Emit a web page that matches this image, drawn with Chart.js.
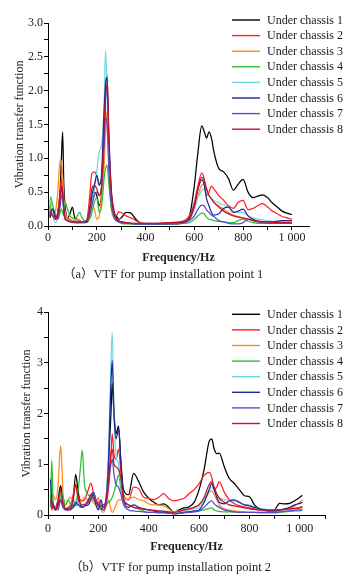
<!DOCTYPE html>
<html>
<head>
<meta charset="utf-8">
<script src="https://cdn.jsdelivr.net/npm/chart.js@4.4.1/dist/chart.umd.min.js"></script>
<style>
  html, body { margin: 0; padding: 0; background: #fff; }
  #wrap { position: relative; width: 357px; height: 581px; overflow: hidden; }
  canvas { position: absolute; left: 0; }
  .cap { position: absolute; white-space: nowrap; font-family: "Liberation Serif", "Noto Sans CJK SC", serif; font-size: 12.5px; line-height: 14px; color: #222; }
</style>
</head>
<body>
<div id="wrap">
  <canvas id="chartA" width="357" height="290" style="top:0"></canvas>
  <div class="cap" style="left:63px; top:267px;">（a）VTF for pump installation point 1</div>
  <canvas id="chartB" width="357" height="291" style="top:290px"></canvas>
  <div class="cap" style="left:70px; top:560px;">（b）VTF for pump installation point 2</div>
</div>
<script>
// ---------- DATA ----------
const seriesNames = ["Under chassis 1","Under chassis 2","Under chassis 3","Under chassis 4","Under chassis 5","Under chassis 6","Under chassis 7","Under chassis 8"];

// Chart (a): frequency grid (Hz)
const freqA = [8,10,20,30,40,50,55,60,65,70,80,90,100,110,120,130,140,150,160,170,180,190,200,210,220,230,236,242,250,260,270,280,290,300,320,340,360,380,400,450,500,550,580,600,615,630,640,650,660,670,680,700,720,740,760,780,800,820,840,860,880,900,920,940,960,980,1000];
const a1 = [0.12,0.15,0.25,0.1,0.2,0.55,1.0,1.39,0.6,0.3, 0.12,0.18,0.28,0.12,0.1,0.08,0.06,0.05,0.06,0.12, 0.35,0.5,0.45,0.3,0.5,1.3,1.9,2.05,1.0,0.4, 0.2,0.15,0.1,0.12,0.2,0.19,0.1,0.04,0.03,0.03, 0.03,0.04,0.15,0.6,1.1,1.48,1.4,1.3,1.39,1.3, 1.1,0.85,0.8,0.7,0.53,0.62,0.69,0.5,0.42,0.44, 0.46,0.42,0.34,0.28,0.22,0.19,0.17];
const a2 = [0.2,0.18,0.15,0.12,0.2,0.5,0.7,0.55,0.3,0.15, 0.1,0.1,0.08,0.07,0.07,0.07,0.06,0.06,0.1,0.4, 0.78,0.8,0.75,0.62,0.7,1.5,2.0,2.25,1.2,0.5, 0.25,0.15,0.21,0.2,0.15,0.12,0.08,0.05,0.04,0.04, 0.05,0.07,0.15,0.35,0.6,0.78,0.7,0.45,0.5,0.59, 0.55,0.45,0.38,0.3,0.26,0.35,0.38,0.24,0.26,0.3, 0.33,0.28,0.22,0.18,0.14,0.12,0.1];
const a3 = [0.3,0.25,0.15,0.2,0.5,0.98,0.95,0.75,0.4,0.2, 0.12,0.1,0.08,0.08,0.1,0.08,0.06,0.06,0.08,0.15, 0.3,0.25,0.1,0.15,0.45,0.9,1.4,1.7,0.9,0.3, 0.12,0.08,0.06,0.05,0.04,0.03,0.03,0.03,0.03,0.03, 0.04,0.05,0.1,0.25,0.45,0.6,0.62,0.55,0.45,0.4, 0.35,0.3,0.25,0.2,0.16,0.14,0.12,0.1,0.1,0.08, 0.07,0.06,0.06,0.05,0.05,0.05,0.05];
const a4 = [0.2,0.43,0.3,0.15,0.1,0.2,0.25,0.2,0.15,0.35, 0.25,0.15,0.12,0.1,0.15,0.2,0.12,0.08,0.08,0.1, 0.2,0.35,0.42,0.2,0.3,0.7,0.85,0.9,0.6,0.25, 0.12,0.08,0.06,0.04,0.03,0.03,0.03,0.03,0.03,0.03, 0.03,0.04,0.05,0.1,0.15,0.19,0.18,0.13,0.1,0.09, 0.08,0.07,0.06,0.05,0.05,0.08,0.1,0.07,0.05,0.04, 0.04,0.04,0.04,0.04,0.04,0.04,0.04];
const a5 = [0.35,0.4,0.15,0.05,0.12,0.35,0.5,0.55,0.3,0.15, 0.08,0.06,0.06,0.05,0.05,0.05,0.05,0.06,0.08,0.15, 0.35,0.55,0.8,1.1,1.2,1.8,2.6,2.0,0.9,0.35, 0.15,0.1,0.08,0.06,0.05,0.04,0.04,0.04,0.04,0.04, 0.04,0.05,0.1,0.25,0.42,0.52,0.55,0.5,0.45,0.4, 0.38,0.34,0.31,0.28,0.22,0.2,0.2,0.15,0.12,0.1, 0.09,0.08,0.07,0.07,0.06,0.06,0.06];
const a6 = [0.15,0.2,0.25,0.15,0.12,0.4,0.55,0.5,0.25,0.1, 0.08,0.07,0.06,0.05,0.05,0.05,0.05,0.05,0.08,0.2, 0.45,0.6,0.75,0.6,0.8,1.7,2.1,2.2,1.3,0.5, 0.2,0.1,0.07,0.06,0.05,0.04,0.03,0.03,0.03,0.03, 0.04,0.05,0.1,0.3,0.55,0.68,0.62,0.4,0.3,0.2, 0.16,0.18,0.26,0.28,0.2,0.22,0.25,0.15,0.1,0.07, 0.06,0.06,0.06,0.07,0.08,0.08,0.08];
const a7 = [0.18,0.2,0.15,0.12,0.1,0.3,0.45,0.4,0.2,0.1, 0.08,0.06,0.05,0.05,0.05,0.05,0.05,0.06,0.08,0.15, 0.3,0.45,0.5,0.45,0.6,1.2,1.6,1.5,0.8,0.3, 0.15,0.08,0.06,0.05,0.04,0.04,0.03,0.03,0.03,0.03, 0.03,0.04,0.08,0.15,0.25,0.31,0.3,0.24,0.2,0.16, 0.14,0.08,0.06,0.04,0.03,0.03,0.05,0.1,0.08,0.06, 0.05,0.04,0.04,0.04,0.04,0.04,0.04];
const a8 = [0.15,0.2,0.15,0.1,0.15,0.4,0.6,0.5,0.25,0.12, 0.08,0.07,0.06,0.06,0.06,0.06,0.06,0.06,0.08,0.25, 0.55,0.6,0.55,0.45,0.6,1.4,1.9,2.1,1.2,0.45, 0.2,0.12,0.08,0.06,0.05,0.04,0.04,0.04,0.04,0.04, 0.05,0.06,0.12,0.3,0.55,0.72,0.68,0.55,0.45,0.4, 0.35,0.28,0.22,0.18,0.15,0.13,0.12,0.1,0.08,0.07, 0.06,0.06,0.05,0.05,0.05,0.05,0.05];

// Chart (b): frequency grid (Hz)
const freqB = [10,15,20,30,40,50,55,60,70,80,90,100,110,120,130,136,145,160,170,180,190,200,210,220,230,240,250,255,262,270,280,290,300,320,340,360,380,400,420,440,460,480,500,520,540,560,580,600,620,640,650,660,670,680,700,720,740,760,780,800,820,840,860,880,900,920,940,960,980,1000,1010];
const b1 = [0.4,0.25,0.2,0.1,0.3,0.58,0.45,0.3,0.1,0.15, 0.1,0.3,0.8,0.45,0.2,0.15,0.18,0.3,0.35,0.45, 0.3,0.2,0.15,0.1,0.3,1.0,2.0,2.6,2.0,1.6, 1.75,1.0,0.5,0.4,0.82,0.66,0.45,0.33,0.25,0.2, 0.22,0.15,0.05,0.1,0.14,0.16,0.25,0.5,0.9,1.45, 1.5,1.3,1.21,1.22,0.95,0.72,0.62,0.5,0.38,0.36, 0.2,0.12,0.1,0.07,0.1,0.23,0.22,0.23,0.28,0.35, 0.39];
const b2 = [0.25,0.1,0.2,0.15,0.3,0.4,0.3,0.2,0.12,0.15, 0.2,0.4,0.6,0.35,0.3,0.28,0.3,0.5,0.63,0.45, 0.3,0.25,0.2,0.2,0.25,0.5,1.2,1.6,1.2,1.1, 1.3,0.8,0.4,0.3,0.55,0.52,0.35,0.33,0.3,0.35, 0.42,0.32,0.28,0.3,0.33,0.42,0.5,0.62,0.78,0.84, 0.75,0.5,0.55,0.66,0.45,0.3,0.22,0.18,0.16,0.14, 0.12,0.1,0.09,0.07,0.08,0.1,0.11,0.12,0.13,0.15, 0.17];
const b3 = [0.3,0.35,0.4,0.3,0.6,1.36,1.0,0.4,0.2,0.3, 0.35,0.2,0.3,0.25,0.25,0.3,0.35,0.3,0.3,0.25, 0.2,0.35,0.1,0.05,0.15,0.3,0.1,0.05,0.1,0.2, 0.3,0.3,0.3,0.32,0.35,0.3,0.28,0.22,0.2,0.2, 0.18,0.12,0.05,0.08,0.1,0.12,0.15,0.2,0.3,0.45, 0.48,0.4,0.3,0.2,0.12,0.1,0.08,0.07,0.06,0.05, 0.05,0.05,0.05,0.06,0.06,0.08,0.1,0.12,0.18,0.25, 0.3];
const b4 = [0.2,1.08,0.3,0.1,0.15,0.3,0.45,0.35,0.2,0.3, 0.2,0.15,0.2,0.5,1.0,1.28,0.6,0.4,0.35,0.3, 0.25,0.2,0.15,0.15,0.2,0.25,0.3,0.35,0.45,0.6, 0.79,0.5,0.3,0.2,0.15,0.12,0.08,0.05,0.05,0.05, 0.05,0.04,0.05,0.05,0.06,0.06,0.07,0.08,0.1,0.13, 0.14,0.1,0.08,0.07,0.06,0.06,0.06,0.05,0.05,0.05, 0.05,0.04,0.04,0.04,0.04,0.05,0.06,0.07,0.08,0.08, 0.09];
const b5 = [0.6,0.3,0.15,0.1,0.15,0.4,0.3,0.2,0.1,0.1, 0.12,0.15,0.3,0.25,0.2,0.2,0.22,0.25,0.35,0.4, 0.25,0.2,0.2,0.15,0.3,1.2,3.0,3.6,2.0,1.2, 1.0,0.6,0.3,0.2,0.15,0.14,0.12,0.1,0.1,0.08, 0.08,0.06,0.05,0.06,0.08,0.1,0.12,0.15,0.3,0.5, 0.55,0.48,0.4,0.35,0.3,0.3,0.28,0.24,0.2,0.2, 0.15,0.13,0.12,0.1,0.1,0.1,0.1,0.1,0.1,0.1, 0.1];
const b6 = [0.7,0.3,0.2,0.1,0.2,0.3,0.25,0.15,0.12,0.1, 0.12,0.15,0.25,0.2,0.18,0.15,0.18,0.2,0.3,0.4, 0.2,0.1,0.3,0.15,0.2,1.0,2.6,3.04,2.0,1.5, 1.7,1.0,0.3,0.15,0.2,0.15,0.12,0.1,0.08,0.06, 0.05,0.04,0.02,0.03,0.05,0.06,0.08,0.1,0.25,0.5, 0.62,0.5,0.35,0.25,0.22,0.28,0.3,0.25,0.2,0.18, 0.15,0.12,0.1,0.08,0.08,0.1,0.12,0.15,0.2,0.23, 0.25];
const b7 = [0.2,0.15,0.15,0.12,0.1,0.3,0.22,0.15,0.1,0.1, 0.12,0.15,0.2,0.2,0.15,0.15,0.18,0.3,0.4,0.45, 0.3,0.15,0.12,0.1,0.2,0.6,1.0,1.1,0.8,0.6, 0.55,0.4,0.2,0.1,0.08,0.07,0.06,0.05,0.05,0.04, 0.04,0.03,0.03,0.03,0.04,0.05,0.06,0.08,0.15,0.25, 0.28,0.22,0.18,0.15,0.1,0.08,0.06,0.05,0.05,0.05, 0.05,0.05,0.05,0.05,0.05,0.06,0.07,0.08,0.09,0.1, 0.1];
const b8 = [0.3,0.2,0.15,0.12,0.2,0.5,0.35,0.2,0.12,0.1, 0.15,0.3,0.6,0.3,0.22,0.2,0.2,0.25,0.4,0.35, 0.25,0.2,0.18,0.15,0.3,0.7,1.2,1.3,1.0,0.95, 0.9,0.7,0.3,0.2,0.15,0.13,0.12,0.1,0.09,0.08, 0.07,0.06,0.05,0.07,0.1,0.12,0.15,0.2,0.35,0.6, 0.66,0.55,0.42,0.33,0.25,0.2,0.18,0.16,0.14,0.12, 0.11,0.1,0.1,0.1,0.1,0.1,0.11,0.12,0.13,0.14, 0.15];

const seriesColors = ["#000000","#ff1f1f","#ff8a1c","#2fbf2f","#6fd6e6","#1c2896","#5a4cd2","#c41230"];

// ---------- CHARTS ----------
const serif = "'Liberation Serif', 'Times New Roman', serif";

const legendPlugin = {
  id: 'seriesLegend',
  afterDraw(chart, args, o) {
    const ctx = chart.ctx;
    ctx.save();
    chart.data.datasets.forEach((ds, i) => {
      const y = o.top + i * o.gap;
      ctx.strokeStyle = ds.borderColor;
      ctx.lineWidth = 1.4;
      ctx.beginPath(); ctx.moveTo(o.x0, y); ctx.lineTo(o.x1, y); ctx.stroke();
      ctx.fillStyle = '#1a1a1a';
      ctx.font = "12px " + serif;
      ctx.textBaseline = 'middle';
      ctx.textAlign = 'left';
      ctx.fillText(ds.label, o.tx, y + 0.5);
    });
    ctx.restore();
  }
};

function makeDatasets(freq, arrs) {
  return arrs.map((vals, i) => ({
    label: seriesNames[i],
    data: freq.map((f, k) => ({ x: f, y: vals[k] })),
    borderColor: seriesColors[i],
    backgroundColor: seriesColors[i],
    borderWidth: 1.25,
    pointRadius: 0,
    cubicInterpolationMode: 'monotone',
    fill: false,
    order: 8 - i
  }));
}

function xLabel(v) {
  if (v % 200 !== 0) return '';
  return v === 1000 ? '1 000' : String(v);
}

function makeChart(id, freq, arrs, cfg) {
  return new Chart(document.getElementById(id), {
    type: 'line',
    data: { datasets: makeDatasets(freq, arrs) },
    plugins: [legendPlugin],
    options: {
      responsive: false,
      animation: false,
      devicePixelRatio: 1,
      layout: { padding: { left: 0, right: cfg.padRight, top: cfg.padTop, bottom: 0 } },
      plugins: {
        legend: { display: false },
        tooltip: { enabled: false },
        seriesLegend: cfg.legend
      },
      scales: {
        x: {
          type: 'linear', min: 0, max: cfg.xMax,
          border: { display: true, color: '#000', width: 1 },
          grid: { display: true, drawOnChartArea: false, color: '#000', tickLength: 4, tickWidth: 1 },
          ticks: { stepSize: 100, autoSkip: false, includeBounds: false, maxRotation: 0, padding: cfg.xPad,
                   color: '#222', font: { family: serif, size: 12 }, callback: xLabel },
          title: { display: true, text: 'Frequency/Hz', color: '#222',
                   font: { family: serif, size: 12, weight: 'bold' }, padding: { top: 0, bottom: cfg.xTitlePad } },
          afterFit: s => { s.height = cfg.xHeight; }
        },
        y: {
          type: 'linear', min: 0, max: cfg.yMax,
          border: { display: true, color: '#000', width: 1 },
          grid: { display: true, drawOnChartArea: false, color: '#000', tickLength: 4, tickWidth: 1 },
          ticks: { stepSize: cfg.yStep, autoSkip: false, includeBounds: false, padding: 1,
                   color: '#222', font: { family: serif, size: 12 }, callback: cfg.yLabel },
          title: { display: true, text: 'Vibration transfer function', color: '#222',
                   font: { family: serif, size: 12 }, padding: { top: cfg.yTitlePad, bottom: 0 } },
          afterFit: s => { s.width = 48; }
        }
      }
    }
  });
}

makeChart('chartA', freqA, [a1,a2,a3,a4,a5,a6,a7,a8], {
  xMax: 1070, yMax: 3, yStep: 0.25,
  yLabel: v => (Math.abs(v * 2 - Math.round(v * 2)) < 1e-6 ? v.toFixed(1) : ''),
  padRight: 48, padTop: 23, xHeight: 64, xPad: 1, xTitlePad: 24.8, yTitlePad: 12.8,
  legend: { x0: 232, x1: 260, tx: 267, top: 20, gap: 15.6 }
});

makeChart('chartB', freqB, [b1,b2,b3,b4,b5,b6,b7,b8], {
  xMax: 1100, yMax: 4, yStep: 0.5,
  yLabel: v => (Math.abs(v - Math.round(v)) < 1e-6 ? String(Math.round(v)) : ''),
  padRight: 32, padTop: 22, xHeight: 66, xPad: 3, xTitlePad: 26.8, yTitlePad: 19.8,
  legend: { x0: 232, x1: 260, tx: 267, top: 24.3, gap: 15.6 }
});
</script>
</body>
</html>
